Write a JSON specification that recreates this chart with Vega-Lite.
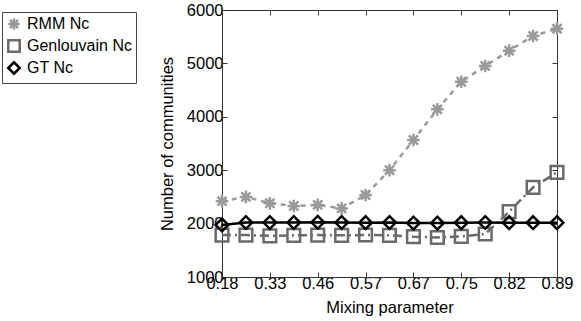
{
  "$schema": "https://vega.github.io/schema/vega-lite/v6.json",
  "width": 335,
  "height": 267,
  "autosize": {"type": "none"},
  "padding": {"left": 222, "top": 10, "right": 24, "bottom": 44},
  "background": "white",
  "config": {
    "font": "Liberation Sans",
    "view": {"stroke": "#333", "strokeWidth": 1},
    "axis": {
      "labelFont": "Liberation Sans",
      "titleFont": "Liberation Sans",
      "labelFontSize": 16.5,
      "titleFontSize": 16.5,
      "labelColor": "#000",
      "titleColor": "#000",
      "titleFontWeight": "normal",
      "domainColor": "#333",
      "tickColor": "#333",
      "labelOverlap": false,
      "labelFlush": false,
      "grid": false
    }
  },
  "data": {
    "values": [
      {"i": 0, "series": "RMM Nc", "nc": 2420},
      {"i": 1, "series": "RMM Nc", "nc": 2500},
      {"i": 2, "series": "RMM Nc", "nc": 2380},
      {"i": 3, "series": "RMM Nc", "nc": 2330},
      {"i": 4, "series": "RMM Nc", "nc": 2350},
      {"i": 5, "series": "RMM Nc", "nc": 2285},
      {"i": 6, "series": "RMM Nc", "nc": 2535},
      {"i": 7, "series": "RMM Nc", "nc": 3000},
      {"i": 8, "series": "RMM Nc", "nc": 3566},
      {"i": 9, "series": "RMM Nc", "nc": 4140},
      {"i": 10, "series": "RMM Nc", "nc": 4657},
      {"i": 11, "series": "RMM Nc", "nc": 4951},
      {"i": 12, "series": "RMM Nc", "nc": 5238},
      {"i": 13, "series": "RMM Nc", "nc": 5513},
      {"i": 14, "series": "RMM Nc", "nc": 5650},
      {"i": 0, "series": "Genlouvain Nc", "nc": 1785},
      {"i": 1, "series": "Genlouvain Nc", "nc": 1785},
      {"i": 2, "series": "Genlouvain Nc", "nc": 1770},
      {"i": 3, "series": "Genlouvain Nc", "nc": 1780},
      {"i": 4, "series": "Genlouvain Nc", "nc": 1785},
      {"i": 5, "series": "Genlouvain Nc", "nc": 1780},
      {"i": 6, "series": "Genlouvain Nc", "nc": 1787},
      {"i": 7, "series": "Genlouvain Nc", "nc": 1780},
      {"i": 8, "series": "Genlouvain Nc", "nc": 1755},
      {"i": 9, "series": "Genlouvain Nc", "nc": 1740},
      {"i": 10, "series": "Genlouvain Nc", "nc": 1760},
      {"i": 11, "series": "Genlouvain Nc", "nc": 1805},
      {"i": 12, "series": "Genlouvain Nc", "nc": 2223},
      {"i": 13, "series": "Genlouvain Nc", "nc": 2679},
      {"i": 14, "series": "Genlouvain Nc", "nc": 2960},
      {"i": 0, "series": "GT Nc", "nc": 1975},
      {"i": 1, "series": "GT Nc", "nc": 2020},
      {"i": 2, "series": "GT Nc", "nc": 2020},
      {"i": 3, "series": "GT Nc", "nc": 2020},
      {"i": 4, "series": "GT Nc", "nc": 2025},
      {"i": 5, "series": "GT Nc", "nc": 2020},
      {"i": 6, "series": "GT Nc", "nc": 2017},
      {"i": 7, "series": "GT Nc", "nc": 2020},
      {"i": 8, "series": "GT Nc", "nc": 2010},
      {"i": 9, "series": "GT Nc", "nc": 2010},
      {"i": 10, "series": "GT Nc", "nc": 2017},
      {"i": 11, "series": "GT Nc", "nc": 2020},
      {"i": 12, "series": "GT Nc", "nc": 2017},
      {"i": 13, "series": "GT Nc", "nc": 2017},
      {"i": 14, "series": "GT Nc", "nc": 2017}
    ]
  },
  "layer": [
    {
      "encoding": {
        "x": {
          "field": "i",
          "type": "quantitative",
          "scale": {"domain": [0, 14], "nice": false, "zero": false},
          "axis": {
            "orient": "bottom",
            "title": "Mixing parameter",
            "values": [0, 2, 4, 6, 8, 10, 12, 14],
            "labelExpr": "['0.18','0.33','0.46','0.57','0.67','0.75','0.82','0.89'][datum.value/2]",
            "tickSize": -5,
            "labelPadding": 3,
            "titlePadding": 8
          }
        },
        "y": {
          "field": "nc",
          "type": "quantitative",
          "scale": {"domain": [1000, 6000], "nice": false, "zero": false},
          "axis": {
            "orient": "left",
            "title": "Number of communities",
            "values": [1000, 2000, 3000, 4000, 5000, 6000],
            "format": "d",
            "tickSize": -5,
            "labelPadding": 4,
            "titlePadding": 11
          }
        }
      },
      "layer": [
        {
          "transform": [{"filter": "datum.series === 'RMM Nc'"}],
          "mark": {"type": "line", "strokeWidth": 2.5, "stroke": "#9a9a9a", "strokeDash": [5, 5]}
        },
        {
          "transform": [{"filter": "datum.series === 'Genlouvain Nc'"}],
          "mark": {"type": "line", "strokeWidth": 2.5, "stroke": "#6a6a6a", "strokeDash": [9, 4, 2, 4]}
        },
        {
          "transform": [{"filter": "datum.series === 'GT Nc'"}],
          "mark": {"type": "line", "strokeWidth": 2.5, "stroke": "#000000"}
        },
        {
          "mark": {"type": "point", "filled": false, "strokeWidth": 2.5, "size": 160, "opacity": 1},
          "encoding": {
            "color": {
              "field": "series",
              "type": "nominal",
              "scale": {"domain": ["RMM Nc", "Genlouvain Nc", "GT Nc"], "range": ["#9a9a9a", "#6a6a6a", "#000000"]},
              "legend": {
                "title": null,
                "orient": "none",
                "legendX": -220,
                "legendY": 2,
                "direction": "vertical",
                "strokeColor": "#444",
                "fillColor": "white",
                "padding": 4,
                "labelFont": "Liberation Sans",
                "labelFontSize": 16,
                "labelColor": "#000",
                "symbolSize": 130,
                "symbolStrokeWidth": 2.5,
                "rowPadding": 0,
                "labelOffset": 5
              }
            },
            "shape": {
              "field": "series",
              "type": "nominal",
              "scale": {
                "domain": ["RMM Nc", "Genlouvain Nc", "GT Nc"],
                "range": ["M-1,0L1,0M0,-1L0,1M-0.72,-0.72L0.72,0.72M-0.72,0.72L0.72,-0.72", "square", "diamond"]
              },
              "legend": {
                "title": null,
                "orient": "none",
                "legendX": -220,
                "legendY": 2,
                "direction": "vertical",
                "strokeColor": "#444",
                "fillColor": "white",
                "padding": 4,
                "labelFont": "Liberation Sans",
                "labelFontSize": 16,
                "labelColor": "#000",
                "symbolSize": 130,
                "symbolStrokeWidth": 2.5,
                "rowPadding": 0,
                "labelOffset": 5
              }
            }
          }
        }
      ]
    },
    {
      "mark": {"type": "point", "opacity": 0},
      "encoding": {
        "x": {
          "field": "i",
          "type": "quantitative",
          "scale": {"domain": [0, 14], "nice": false, "zero": false},
          "axis": {"orient": "top", "labels": false, "title": null, "domain": false, "values": [0, 2, 4, 6, 8, 10, 12, 14], "tickSize": -5}
        },
        "y": {
          "field": "nc",
          "type": "quantitative",
          "scale": {"domain": [1000, 6000], "nice": false, "zero": false},
          "axis": {"orient": "right", "labels": false, "title": null, "domain": false, "values": [1000, 2000, 3000, 4000, 5000, 6000], "tickSize": -5}
        }
      }
    }
  ],
  "resolve": {"axis": {"x": "independent", "y": "independent"}}
}
